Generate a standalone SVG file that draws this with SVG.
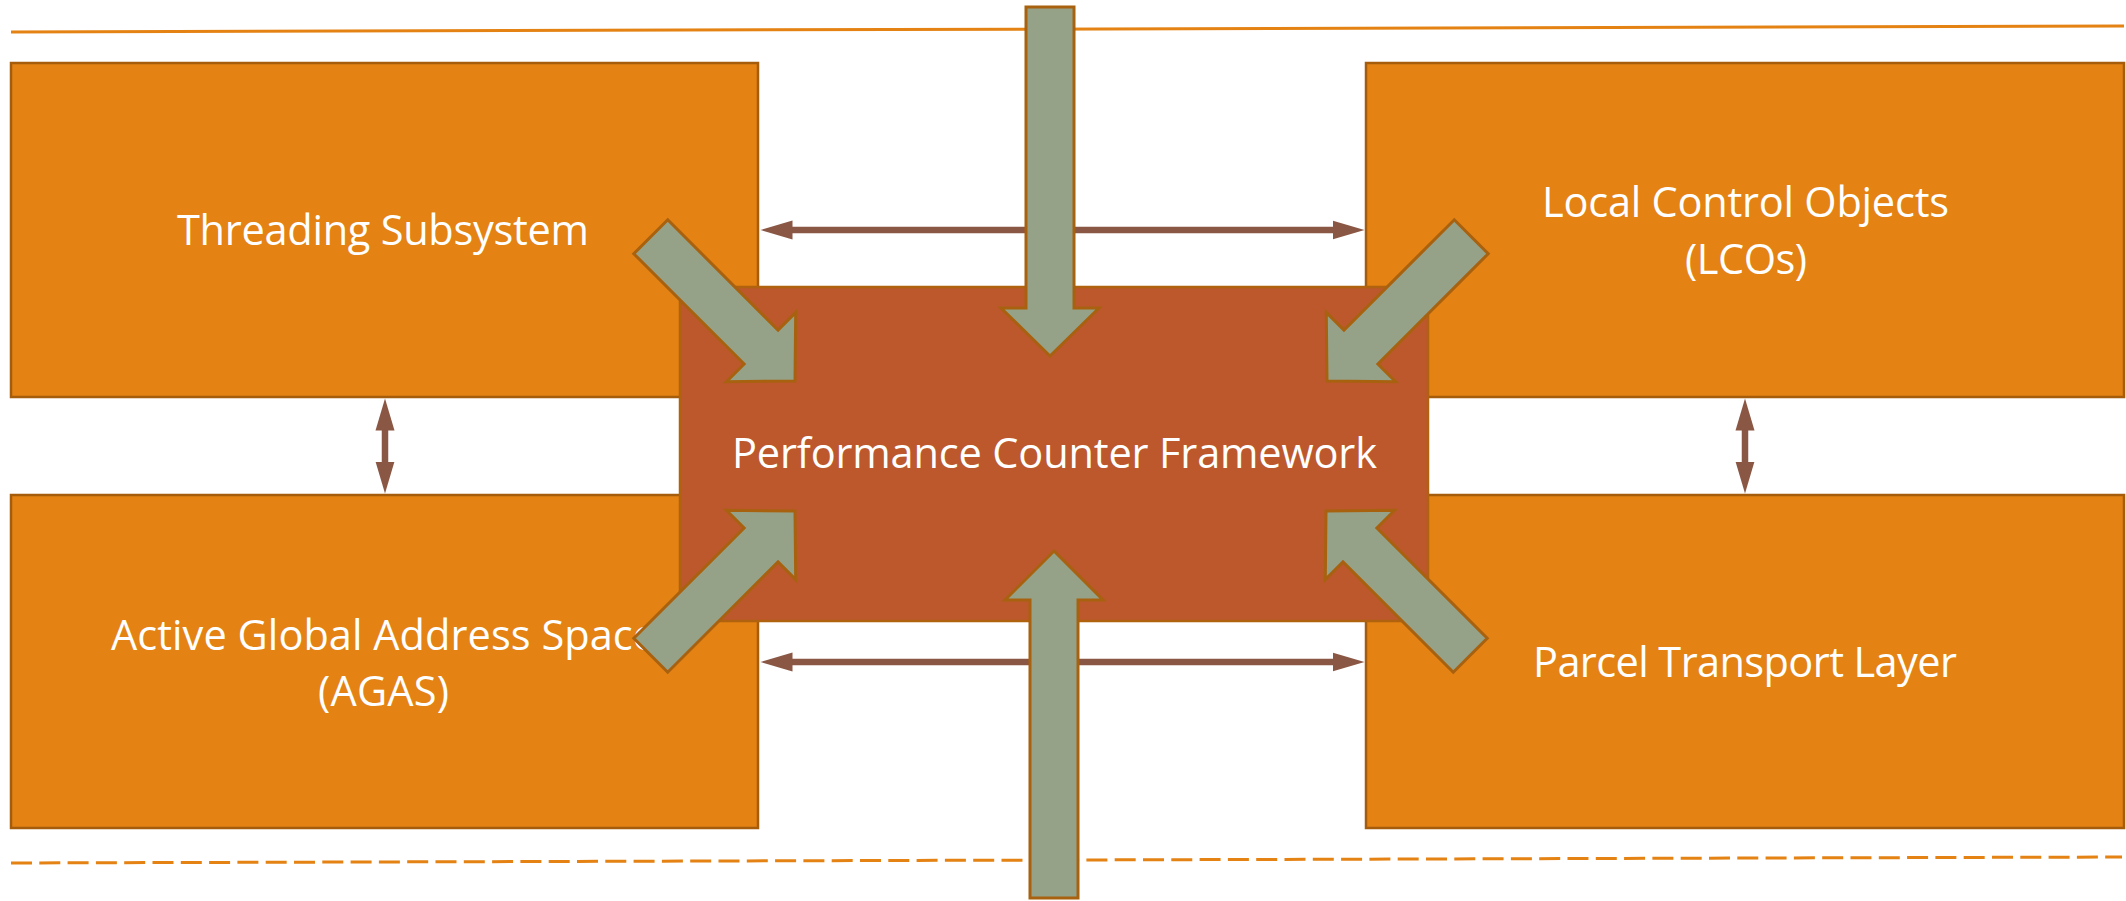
<svg xmlns="http://www.w3.org/2000/svg" width="2126" height="901" viewBox="0 0 2126 901">
  <style>
    .box { fill: #E48213; stroke: #A55D0C; stroke-width: 2.5; }
    .core { fill: #BC582C; stroke: #B0620F; stroke-width: 2.5; }
    .label { font-family: "Open Sans", "Noto Sans", sans-serif; font-size: 41.5px; fill: #FFFFFF; }
    .link { stroke: #8A5744; stroke-width: 6.5; fill: none; marker-start: url(#head); marker-end: url(#head); }
    .feed { fill: #96A288; stroke: #A8610F; stroke-width: 3; stroke-linejoin: miter; }
    .rule { stroke: #E48213; stroke-width: 3; fill: none; }
  </style>
  <defs>
    <marker id="head" markerUnits="userSpaceOnUse" markerWidth="40" markerHeight="24" viewBox="0 -12 40 24" refX="0.5" refY="0" orient="auto-start-reverse">
      <path d="M0,-9.5 L32,0 L0,9.5 Z" fill="#8A5744"/>
    </marker>
    <!-- block arrow pointing +x, tip at origin -->
    <polygon id="diag" points="-204,-24 -48,-24 -48,-49 0,0 -48,49 -48,24 -204,24"/>
  </defs>

  <rect width="2126" height="901" fill="#FFFFFF"/>

  <!-- separator rules -->
  <line class="rule" x1="11" y1="32" x2="2124" y2="26"/>
  <line class="rule" x1="11" y1="863" x2="2122" y2="857" stroke-dasharray="21 7.3"/>

  <!-- subsystem blocks -->
  <g id="threading">
    <rect class="box" x="11" y="63" width="747" height="334"/>
    <text class="label" x="177" y="245" textLength="412">Threading Subsystem</text>
  </g>
  <g id="lco">
    <rect class="box" x="1366" y="63" width="758" height="334"/>
    <text class="label" x="1542" y="217" textLength="407">Local Control Objects</text>
    <text class="label" x="1685" y="274" textLength="122">(LCOs)</text>
  </g>
  <g id="agas">
    <rect class="box" x="11" y="495" width="747" height="333"/>
    <text class="label" x="111" y="650" textLength="545">Active Global Address Space</text>
    <text class="label" x="318" y="706" textLength="131">(AGAS)</text>
  </g>
  <g id="parcel">
    <rect class="box" x="1366" y="495" width="758" height="333"/>
    <text class="label" x="1533" y="677" textLength="424">Parcel Transport Layer</text>
  </g>

  <!-- links between subsystems -->
  <g id="links">
    <line class="link" x1="792" y1="230" x2="1333" y2="230"/>
    <line class="link" x1="792" y1="662" x2="1333" y2="662"/>
    <line class="link" x1="385" y1="430" x2="385" y2="462"/>
    <line class="link" x1="1745" y1="430" x2="1745" y2="462"/>
  </g>

  <g id="counters">
    <rect class="core" x="680" y="287" width="748" height="334"/>
    <text class="label" x="732" y="468" textLength="645">Performance Counter Framework</text>
  </g>

  <!-- counter feeds into the framework -->
  <g id="feeds">
    <polygon class="feed" points="1026,7 1074,7 1074,308 1099,308 1050,356 1001,308 1026,308"/>
    <polygon class="feed" points="1030,898 1078,898 1078,600 1103,600 1054,551 1005,600 1030,600"/>
    <use class="feed" href="#diag" transform="translate(795,381) rotate(45)"/>
    <use class="feed" href="#diag" transform="translate(1327,381) rotate(135)"/>
    <use class="feed" href="#diag" transform="translate(795,511) rotate(-45)"/>
    <use class="feed" href="#diag" transform="translate(1326,511) rotate(-135)"/>
  </g>
</svg>
